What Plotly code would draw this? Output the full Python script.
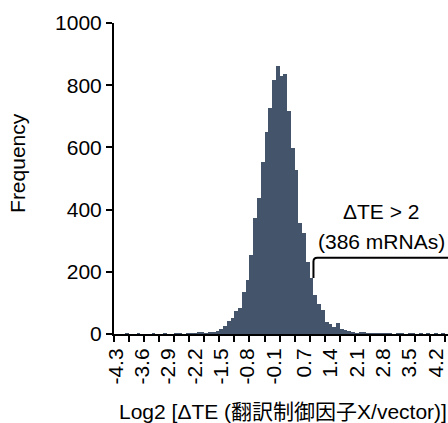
import plotly.graph_objects as go
import numpy as np

# ---- data ----
bin_start = -4.3
bin_width = 0.1
counts = [0, 0, 0, 1, 0, 0, 1, 0, 0, 0,
          1, 0, 0, 1, 0, 0, 1, 1, 0, 1,
          2, 2, 4, 5, 3, 4, 6, 11, 17, 27,
          43, 53, 74, 85, 136, 174, 253, 372, 438, 554,
          651, 726, 817, 862, 828, 836, 716, 598, 526, 356,
          326, 230, 179, 127, 98, 77, 40, 31, 24, 34,
          15, 13, 10, 4, 3, 8, 5, 2, 2, 1,
          1, 2, 1, 1, 0, 1, 1, 0, 1, 1,
          0, 1, 0, 1, 0, 1, 0, 1, 0]
tick_labels = ["-4.3", "-3.6", "-2.9", "-2.2", "-1.5", "-0.8", "-0.1",
               "0.7", "1.4", "2.1", "2.8", "3.5", "4.2"]
y_ticks = [0, 200, 400, 600, 800, 1000]
threshold = 0.95          # log2(ΔTE) = 1 bin edge
bracket_y = [180, 245]
note_lines = ["ΔTE > 2", "(386 mRNAs)"]
note_x = 2.75
note_y = [393, 296]

centers = np.round(bin_start + bin_width * np.arange(len(counts)), 2)
tick_vals = [float(t) for t in tick_labels]

FONT = "Liberation Sans, Arial, Noto Sans CJK JP, sans-serif"
BAR = "#44546A"

fig = go.Figure(go.Bar(
    x=centers, y=counts, width=bin_width,
    marker=dict(color=BAR, line=dict(width=0)),
    hoverinfo="skip"))

fig.update_layout(
    width=448, height=423,
    margin=dict(l=114, r=0, t=23, b=89, autoexpand=False),
    paper_bgcolor="white", plot_bgcolor="white",
    font=dict(family=FONT, size=21, color="black"),
    bargap=0, showlegend=False,
)
fig.update_xaxes(
    automargin=False,
    range=[bin_start - bin_width / 2, 4.525],
    tickmode="array", tickvals=tick_vals, ticktext=tick_labels,
    tickangle=-90, ticks="", showgrid=False, zeroline=False,
    showline=True, linecolor="black", linewidth=2,
    minor=dict(ticks="outside", ticklen=6, tickwidth=2, tickcolor="black",
               tick0=bin_start - bin_width / 2, dtick=0.4, showgrid=False),
    tickfont=dict(size=21), ticklabelstandoff=4,
)
fig.update_yaxes(
    automargin=False,
    range=[0, 1000], tickmode="array", tickvals=y_ticks,
    ticks="outside", ticklen=6, tickwidth=2, tickcolor="black",
    showgrid=False, zeroline=False,
    showline=True, linecolor="black", linewidth=2,
    tickfont=dict(size=21),
)

# bracket marking ΔTE > 2
fig.add_shape(
    type="path", xref="x", yref="y",
    path=(f"M {threshold},{bracket_y[0]} L {threshold},{bracket_y[1] - 12} "
          f"Q {threshold},{bracket_y[1]} {threshold + 0.1},{bracket_y[1]} "
          f"L 4.6,{bracket_y[1]}"),
    line=dict(color="black", width=2))

for txt, yy in zip(note_lines, note_y):
    fig.add_annotation(x=note_x, y=yy, xref="x", yref="y", text=txt,
                       showarrow=False, font=dict(size=21),
                       xanchor="center", yanchor="middle")

fig.add_annotation(text="Log2 [ΔTE (翻訳制御因子X/vector)]",
                   xref="paper", yref="paper", x=0.5, y=0,
                   xanchor="center", yanchor="top", yshift=-64, xshift=2,
                   showarrow=False, font=dict(size=21))
fig.add_annotation(text="Frequency", textangle=-90,
                   xref="paper", yref="paper", x=0, y=0.55,
                   xanchor="center", yanchor="middle", xshift=-96,
                   showarrow=False, font=dict(size=21))

fig.write_html("out.html",
               config={"displayModeBar": False},
               post_script="document.body.style.margin='0';"
                           "document.body.style.overflow='hidden';")
